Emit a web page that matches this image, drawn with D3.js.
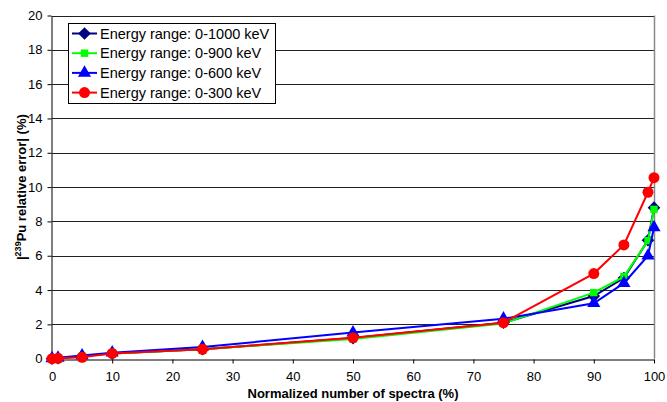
<!DOCTYPE html>
<html><head><meta charset="utf-8">
<script src="https://cdn.jsdelivr.net/npm/d3@7"></script>
<style>body{margin:0;background:#fff}svg{display:block;font-family:"Liberation Sans",Arial,sans-serif}</style>
</head><body><svg id="c" width="667" height="402"></svg>
<script>
const xValues = [0, 1, 5, 10, 25, 50, 75, 90, 95, 99, 100];
const seriesNames = ["Energy range: 0-1000 keV","Energy range: 0-900 keV","Energy range: 0-600 keV","Energy range: 0-300 keV"];
const err1000 = [0, 0.03, 0.15, 0.3, 0.55, 1.2, 2.1, 3.65, 4.7, 6.9, 8.8];
const err900  = [0, 0.03, 0.15, 0.3, 0.55, 1.15, 2.05, 3.85, 4.78, 6.88, 8.7];
const err600  = [0.02, 0.05, 0.18, 0.35, 0.68, 1.52, 2.33, 3.23, 4.4, 6.0, 7.65];
const err300  = [0, 0.02, 0.08, 0.31, 0.55, 1.22, 2.1, 4.96, 6.63, 9.7, 10.55];
const xTicks = [0,10,20,30,40,50,60,70,80,90,100];
const yTicks = [0,2,4,6,8,10,12,14,16,18,20];

const svg = d3.select("#c");
const L=52, R=654, T=15.5, B=358.7;
const x = d3.scaleLinear().domain([0,100]).range([L,R]);
const y = d3.scaleLinear().domain([0,20]).range([B,T]);

svg.append("g").selectAll("line").data(yTicks.filter(d=>d>0)).join("line")
  .attr("x1",L).attr("x2",R).attr("y1",d=>Math.round(y(d))+0.5).attr("y2",d=>Math.round(y(d))+0.5)
  .attr("stroke","#222").attr("stroke-width",1);
svg.append("line").attr("x1",R+0.5).attr("x2",R+0.5).attr("y1",T).attr("y2",B).attr("stroke","#888").attr("stroke-width",1.5);

const xAxis = svg.append("g").attr("transform",`translate(0,${Math.round(B)+0.5})`)
  .call(d3.axisBottom(x).tickValues(xTicks).tickSize(4).tickPadding(5).tickSizeOuter(0));
const yAxis = svg.append("g").attr("transform",`translate(${L-0.5},0)`)
  .call(d3.axisLeft(y).tickValues(yTicks).tickSize(4).tickPadding(5).tickSizeOuter(0));
[xAxis,yAxis].forEach(a=>{
  a.select(".domain").attr("stroke","#000");
  a.selectAll(".tick line").attr("stroke","#000");
  a.selectAll("text").attr("font-size",13).attr("fill","#000").attr("font-family","Liberation Sans, Arial, sans-serif");
});
xAxis.selectAll("text").attr("dy","0.95em");

svg.append("text").attr("x",(L+R)/2).attr("y",398).attr("text-anchor","middle")
  .attr("font-size",13).attr("font-weight","bold").text("Normalized number of spectra (%)");
const yt = svg.append("text").attr("transform",`translate(26,${(T+B)/2}) rotate(-90)`)
  .attr("text-anchor","middle").attr("font-size",13).attr("font-weight","bold");
yt.append("tspan").text("|");
yt.append("tspan").attr("font-size",9).attr("dy",-5).text("239");
yt.append("tspan").attr("dy",5).text("Pu relative error|  (%)");

const diamond = {draw(ctx,size){const r=Math.sqrt(size/2);ctx.moveTo(0,-r);ctx.lineTo(r,0);ctx.lineTo(0,r);ctx.lineTo(-r,0);ctx.closePath();}};
const series = [
  {name:seriesNames[0], vals:err1000, color:"#000080", sym:diamond, size:80},
  {name:seriesNames[1], vals:err900,  color:"#00ff00", sym:d3.symbolSquare,  size:55},
  {name:seriesNames[2], vals:err600,  color:"#0000ff", sym:d3.symbolTriangle, size:75},
  {name:seriesNames[3], vals:err300,  color:"#ff0000", sym:d3.symbolCircle, size:95},
];
const line = d3.line().x((d,i)=>x(xValues[i])).y(d=>y(d));
series.forEach(s=>{
  const g = svg.append("g");
  g.append("path").attr("d",line(s.vals)).attr("fill","none").attr("stroke",s.color).attr("stroke-width",2);
  g.selectAll("path.m").data(s.vals).join("path").attr("class","m")
    .attr("transform",(d,i)=>`translate(${x(xValues[i])},${y(d)})`)
    .attr("d",d3.symbol(s.sym,s.size)()).attr("fill",s.color);
});

const lg = svg.append("g");
lg.append("rect").attr("x",68.5).attr("y",23.5).attr("width",207).attr("height",80)
  .attr("fill","#fff").attr("stroke","#000").attr("stroke-width",1);
series.forEach((s,i)=>{
  const cy = 33.5 + i*19.7;
  lg.append("line").attr("x1",72).attr("x2",97).attr("y1",cy).attr("y2",cy).attr("stroke",s.color).attr("stroke-width",2);
  lg.append("path").attr("transform",`translate(84.5,${cy})`)
    .attr("d",d3.symbol(s.sym,s.size)()).attr("fill",s.color);
  lg.append("text").attr("x",100).attr("y",cy+5).attr("font-size",14.5).text(s.name);
});
</script></body></html>
